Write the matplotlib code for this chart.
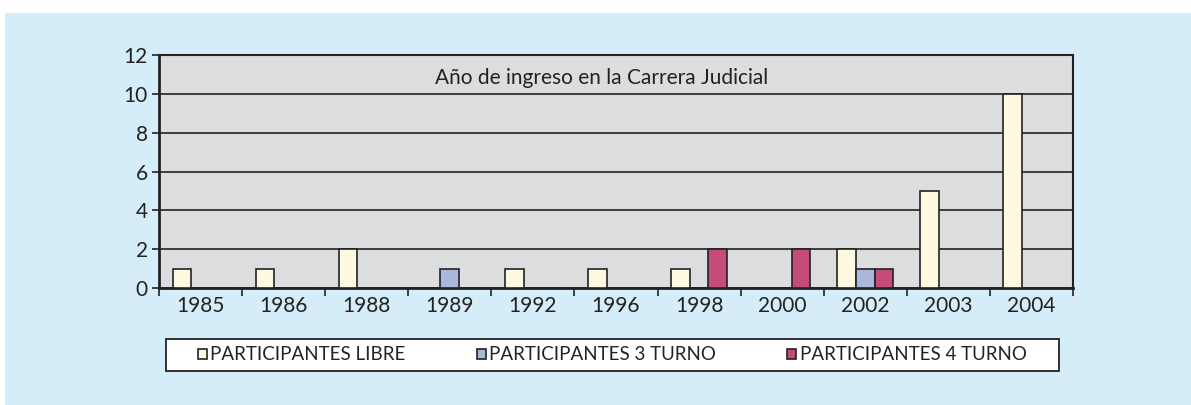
import matplotlib
matplotlib.use('Agg')
import matplotlib.pyplot as plt
import matplotlib.patches as mpatches
import numpy as np

years = ['1985', '1986', '1988', '1989', '1992', '1996', '1998', '2000', '2002', '2003', '2004']
libre = [1, 1, 2, 0, 1, 1, 1, 0, 2, 5, 10]
turno3 = [0, 0, 0, 1, 0, 0, 0, 0, 1, 0, 0]
turno4 = [0, 0, 0, 0, 0, 0, 2, 2, 1, 0, 0]
series_names = ['PARTICIPANTES LIBRE', 'PARTICIPANTES 3 TURNO', 'PARTICIPANTES 4 TURNO']
colors = ['#FDF8E0', '#A9B7DC', '#C44B7A']

plt.rcParams['font.family'] = ['Lato', 'DejaVu Sans']

W, H = 1191, 405
fig = plt.figure(figsize=(W / 100, H / 100), dpi=100)
fig.patch.set_facecolor('white')
# light blue panel behind everything
fig.patches.append(mpatches.Rectangle((5 / W, 0), 1 - 5 / W, 1 - 13 / H,
                                      transform=fig.transFigure, facecolor='#D5ECF9',
                                      edgecolor='none', zorder=-10))
# legend box
fig.patches.append(mpatches.Rectangle((165.7 / W, 1 - 371 / H), (1059 - 165.7) / W, 32 / H,
                                      transform=fig.transFigure, facecolor='white',
                                      edgecolor='#222222', linewidth=1.3, zorder=-5))

ax = fig.add_axes([159 / W, 1 - 288 / H, 914 / W, 233 / H])
ax.set_facecolor('#DCDDDF')

x = np.arange(len(years))
w = 0.225
bars = []
for i, (vals, c) in enumerate(zip([libre, turno3, turno4], colors)):
    h = ax.bar(x + (i - 1) * w, vals, width=w, color=c, edgecolor='#222222',
               linewidth=1.2, zorder=3, label=series_names[i])
    bars.append(h)

ax.set_xlim(-0.5, len(years) - 0.5)
ax.set_ylim(0, 12)
ax.set_yticks(range(0, 13, 2))
ax.set_yticklabels([str(v) for v in range(0, 13, 2)], fontsize=15, color='#222222')
ax.yaxis.grid(True, color='#222222', linewidth=1.2, zorder=1)
ax.set_axisbelow(True)

ax.set_xticks(x)
ax.set_xticklabels(years, fontsize=15, color='#222222')
ax.set_xticks(np.arange(-0.5, len(years)), minor=True)
ax.tick_params(axis='x', which='major', length=0, pad=6)
ax.tick_params(axis='x', which='minor', length=6, width=1.2, color='#222222')
ax.tick_params(axis='y', length=5, width=1.2, color='#222222', pad=3)

for s in ax.spines.values():
    s.set_color('#222222')
    s.set_linewidth(1.5)
ax.spines['left'].set_linewidth(2)
ax.spines['bottom'].set_linewidth(2)

fig.text(602 / W, 1 - 78 / H, 'Año de ingreso en la Carrera Judicial',
         ha='center', va='center', fontsize=15, color='#222222')

leg = fig.legend(handles=bars, labels=series_names, loc='center',
                 bbox_to_anchor=((165.7 + 1059) / 2 / W, 1 - 355 / H),
                 ncol=3, fontsize=13.5, frameon=False,
                 handlelength=0.45, handleheight=0.45, handletextpad=0.2,
                 columnspacing=3.8, borderpad=0.2)
for t in leg.get_texts():
    t.set_color('#222222')

fig.savefig('out.png', dpi=100)
